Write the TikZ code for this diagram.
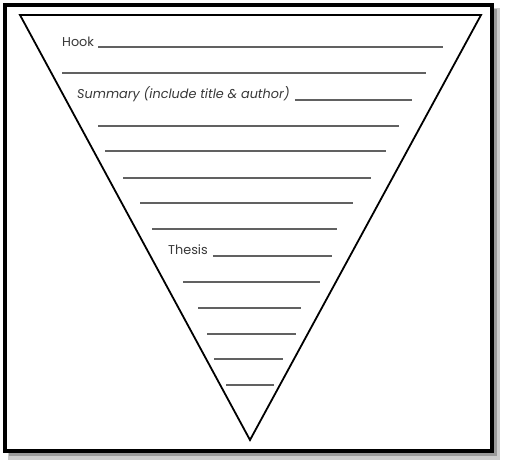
\documentclass[tikz,border=0pt]{standalone}
\usepackage{fontspec}
\setmainfont{Poppins}
\begin{document}
\begin{tikzpicture}[x=1pt,y=-1pt,
  frame/.style={draw=black,line width=4pt},
  funnel/.style={draw=black,line width=1.8pt,line join=miter},
  blank/.style={draw=black!62,line width=1.3pt},
  label/.style={anchor=base west,inner sep=0pt,text=black!78,font=\fontsize{12.8}{14}\selectfont}]
\useasboundingbox (0,0) rectangle (506,464);
% shadow and frame
\fill[black!20] (8,8) rectangle (500,460);
\fill[black!40] (9,9) rectangle (497,456);
\fill[white] (5,5) rectangle (492,451);
\draw[frame] (5,5) rectangle (492,451);
% funnel
\coordinate (tl) at (20,15);
\coordinate (tr) at (481,15);
\coordinate (apex) at (250,440);
\draw[funnel] (tl) -- (tr) -- (apex) -- cycle;
% texts
\node[label] (hook) at (62,46) {Hook};
\node[label] (summary) at (77,98) {\itshape Summary (include title \& author)};
\node[label] (thesis) at (168,254) {Thesis};
% blank lines
\coordinate (h1) at (443,47);
\draw[blank] (hook.base east) ++(4,1) coordinate (h0) -- (h1);
\coordinate (a0) at (62,73);  \coordinate (a1) at (426,73);
\draw[blank] (a0) -- (a1);
\coordinate (s1) at (412,100);
\draw[blank] (summary.base east) ++(5,2) coordinate (s0) -- (s1);
\coordinate (b0) at (98,126);  \coordinate (b1) at (399,126);
\draw[blank] (b0) -- (b1);
\coordinate (c0) at (105,151); \coordinate (c1) at (386,151);
\draw[blank] (c0) -- (c1);
\coordinate (d0) at (123,178); \coordinate (d1) at (371,178);
\draw[blank] (d0) -- (d1);
\coordinate (e0) at (140,203); \coordinate (e1) at (353,203);
\draw[blank] (e0) -- (e1);
\coordinate (f0) at (152,229); \coordinate (f1) at (337,229);
\draw[blank] (f0) -- (f1);
\coordinate (t1) at (332,256);
\draw[blank] (thesis.base east) ++(5,2) coordinate (t0) -- (t1);
\coordinate (g0) at (183,282); \coordinate (g1) at (320,282);
\draw[blank] (g0) -- (g1);
\coordinate (i0) at (198,308); \coordinate (i1) at (301,308);
\draw[blank] (i0) -- (i1);
\coordinate (j0) at (207,334); \coordinate (j1) at (296,334);
\draw[blank] (j0) -- (j1);
\coordinate (k0) at (214,359); \coordinate (k1) at (283,359);
\draw[blank] (k0) -- (k1);
\coordinate (m0) at (226,385); \coordinate (m1) at (274,385);
\draw[blank] (m0) -- (m1);
\end{tikzpicture}
\end{document}
